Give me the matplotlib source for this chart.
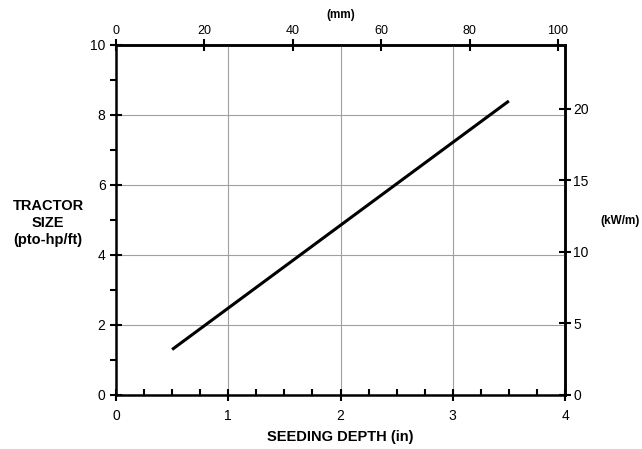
import numpy as np
import matplotlib.pyplot as plt
from matplotlib.ticker import MultipleLocator

plt.rcParams['font.family'] = ['Liberation Sans', 'DejaVu Sans']

# seeding depth (in) vs tractor size (pto-hp/ft)
depth_in = [0.5, 3.5]
size_hp_ft = [1.3, 8.4]

x_ticks = [0, 1, 2, 3, 4]
y_ticks = [0, 2, 4, 6, 8, 10]
mm_ticks = [0, 20, 40, 60, 80, 100]
kw_ticks = [0, 5, 10, 15, 20]

MM_PER_IN = 25.4
KW_M_PER_HP_FT = 0.7457 / 0.3048

fig = plt.figure(figsize=(6.42, 4.49), dpi=100)
ax = fig.add_axes([116/642, 1-395/449, (565-116)/642, (395-45)/449])

ax.plot(depth_in, size_hp_ft, color='black', lw=2.2, solid_capstyle='butt')

ax.set_xlim(0, 4)
ax.set_ylim(0, 10)
ax.set_xticks(x_ticks)
ax.set_yticks(y_ticks)
ax.xaxis.set_minor_locator(MultipleLocator(0.25))
ax.yaxis.set_minor_locator(MultipleLocator(1))
ax.grid(True, which='major', color='#a0a0a0', lw=0.8)
for s in ax.spines.values():
    s.set_linewidth(1.8)
ax.tick_params(which='major', direction='inout', length=8, width=1.5, labelsize=10)
ax.tick_params(axis='x', which='minor', direction='in', length=4, width=1.5)
ax.tick_params(axis='y', which='minor', direction='out', length=4, width=1.5)
ax.tick_params(axis='x', pad=6)

# top axis in mm
top = ax.secondary_xaxis('top', functions=(lambda x: x * MM_PER_IN, lambda m: m / MM_PER_IN))
top.set_xticks(mm_ticks)
top.tick_params(direction='inout', length=8, width=1.5, labelsize=9, pad=2)
top.spines['top'].set_linewidth(1.8)

# right axis in kW/m
right = ax.secondary_yaxis('right', functions=(lambda y: y * KW_M_PER_HP_FT, lambda k: k / KW_M_PER_HP_FT))
right.set_yticks(kw_ticks)
right.tick_params(direction='inout', length=8, width=1.5, labelsize=10, pad=2)
right.spines['right'].set_linewidth(1.8)

fig.text(340/642, 1-437/449, 'SEEDING DEPTH (in)', ha='center', va='center',
         fontsize=10.5, fontweight='bold')
fig.text(48/642, 1-223/449, 'TRACTOR\nSIZE\n(pto-hp/ft)', ha='center', va='center',
         fontsize=10.5, fontweight='bold', linespacing=1.25)
fig.text(620/642, 1-221/449, '(kW/m)', ha='center', va='center',
         fontsize=8.5, fontweight='bold')
fig.text(341/642, 1-15/449, '(mm)', ha='center', va='center',
         fontsize=8.5, fontweight='bold')

fig.savefig('out.png', dpi=100)
